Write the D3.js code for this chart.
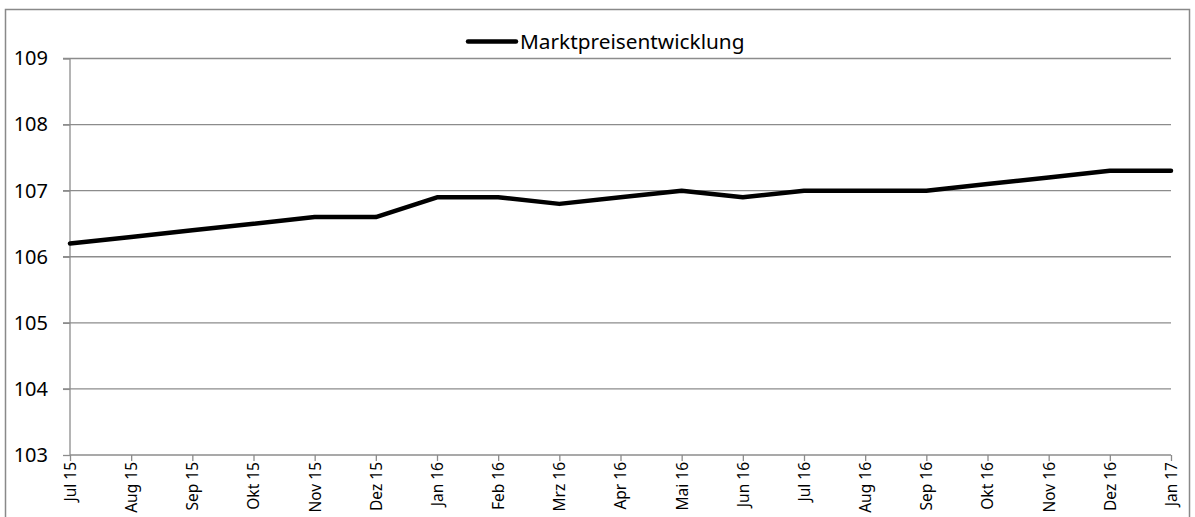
<!DOCTYPE html>
<html><head><meta charset="utf-8">
<script src="https://cdn.jsdelivr.net/npm/d3@7"></script>
<style>body{margin:0;background:#fff}svg{display:block}</style>
</head><body><svg id="c" width="1195" height="517"></svg>
<script>
const categories=["Jul 15","Aug 15","Sep 15","Okt 15","Nov 15","Dez 15","Jan 16","Feb 16","Mrz 16","Apr 16","Mai 16","Jun 16","Jul 16","Aug 16","Sep 16","Okt 16","Nov 16","Dez 16","Jan 17"];
const values=[106.2,106.3,106.4,106.5,106.6,106.6,106.9,106.9,106.8,106.9,107.0,106.9,107.0,107.0,107.0,107.1,107.2,107.3,107.3];
const yTicks=[103,104,105,106,107,108,109];
const seriesName="Marktpreisentwicklung";

const svg=d3.select("#c");
const font="'Noto Sans', sans-serif";
svg.append("rect").attr("x",5.5).attr("y",9.5).attr("width",1184).attr("height",520).attr("fill","none").attr("stroke","#898989").attr("stroke-width",1.5);

const x=d3.scalePoint().domain(categories).range([70,1171]);
const y=d3.scaleLinear().domain([103,109]).range([455,58.5]);

// gridlines
svg.append("g").selectAll("line").data(yTicks.filter(d=>d>103)).join("line")
 .attr("x1",63).attr("x2",1171).attr("y1",d=>y(d)).attr("y2",d=>y(d))
 .attr("stroke","#8c8c8c").attr("stroke-width",1.3);

const ya=svg.append("g").attr("transform","translate(70,0)")
 .call(d3.axisLeft(y).tickValues(yTicks).tickSize(7).tickFormat(d3.format("d")));
ya.select(".domain").attr("stroke","#8c8c8c").attr("stroke-width",1.3).attr("d","M0,"+y(109)+"V"+y(103));
ya.selectAll(".tick line").attr("stroke","#8c8c8c").attr("stroke-width",1.3);
ya.selectAll(".tick text").attr("x",-22).attr("font-family",font).attr("font-size",20).attr("fill","#000");

const xa=svg.append("g").attr("transform","translate(0,455)")
 .call(d3.axisBottom(x).tickSize(6).tickSizeOuter(0));
xa.select(".domain").attr("stroke","#8c8c8c").attr("stroke-width",1.3).attr("d","M70,0H1171");
xa.selectAll(".tick line").attr("stroke","#8c8c8c").attr("stroke-width",1.3);
xa.selectAll(".tick text").attr("font-family",font).attr("font-size",15.5).attr("fill","#000")
 .attr("transform","rotate(-90)").attr("text-anchor","end").attr("x",-7).attr("y",0).attr("dy","0.35em");

const line=d3.line().x((d,i)=>x(categories[i])).y(d=>y(d));
svg.append("path").datum(values).attr("d",line).attr("fill","none").attr("stroke","#000").attr("stroke-width",4.5).attr("stroke-linejoin","round").attr("stroke-linecap","round");

// legend
svg.append("line").attr("x1",468).attr("x2",516).attr("y1",41.5).attr("y2",41.5).attr("stroke","#000").attr("stroke-width",4.5).attr("stroke-linecap","round");
svg.append("text").attr("x",520).attr("y",42).attr("dy","0.35em").attr("font-family",font).attr("font-size",20.8).attr("fill","#000").text(seriesName);
</script></body></html>
